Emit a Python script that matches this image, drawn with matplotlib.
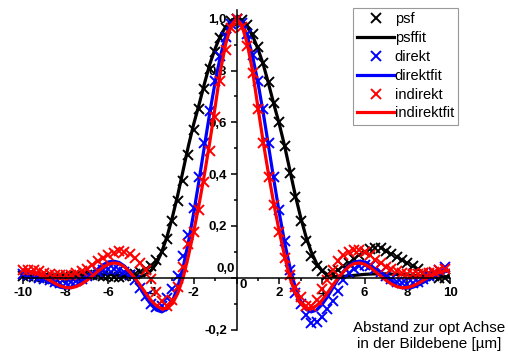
import numpy as np
import matplotlib
matplotlib.use("Agg")
import matplotlib.pyplot as plt
from matplotlib.ticker import MultipleLocator, FuncFormatter

plt.rcParams['font.family'] = ['Liberation Sans', 'DejaVu Sans']

# sample positions (µm)
x_data = np.arange(-10, 10, 0.25)        # -10 ... 9.75
x_fit = np.arange(-10, 10.001, 0.25)     # -10 ... 10

# measured profiles
psf = [0.005, 0.005, 0.004, 0.003, 0.002, 0.0, 0.0, 0.0, 0.002, 0.004, 0.006,
       0.008, 0.01, 0.01, 0.01, 0.008, 0.006, 0.004, 0.004, 0.006, 0.01, 0.015,
       0.022, 0.032, 0.045, 0.068, 0.1, 0.15, 0.22, 0.295, 0.375, 0.475, 0.57,
       0.65, 0.73, 0.805, 0.87, 0.925, 0.965, 0.99,
       1.0,
       0.995, 0.975, 0.94, 0.89, 0.83, 0.755, 0.675, 0.6, 0.51, 0.405, 0.31,
       0.22, 0.14, 0.085, 0.045, 0.025, 0.012, 0.015,
       0.03, 0.045, 0.058, 0.072, 0.088, 0.1, 0.11, 0.115, 0.113, 0.105, 0.092,
       0.08, 0.068, 0.055, 0.044, 0.032, 0.02, 0.012, 0.005, 0.0, 0.0]

direkt = [0.015, 0.01, 0.005, 0.0, -0.005, -0.01, -0.015, -0.02, -0.02, -0.018,
          -0.012, -0.005, 0.005, 0.015, 0.022, 0.028, 0.032, 0.033, 0.03, 0.022,
          0.01, -0.01,
          -0.04, -0.072, -0.1, -0.115, -0.108, -0.08, -0.045, 0.005, 0.085, 0.165,
          0.27, 0.39, 0.52, 0.645, 0.76, 0.855, 0.93, 0.98,
          1.0,
          0.985, 0.94, 0.86, 0.76, 0.65, 0.52, 0.39, 0.26, 0.14, 0.03, -0.06,
          -0.1, -0.145, -0.175, -0.172, -0.15, -0.122,
          -0.088, -0.05, -0.01, 0.018, 0.035, 0.045, 0.048, 0.044, 0.035, 0.022,
          0.008, -0.005, -0.015, -0.022, -0.025, -0.022, -0.015, -0.005, 0.005,
          0.018, 0.03, 0.042]

indirekt = [0.03, 0.03, 0.028, 0.025, 0.02, 0.015, 0.012, 0.01, 0.01, 0.012,
            0.018, 0.025, 0.035, 0.05, 0.065, 0.078, 0.088, 0.097, 0.103, 0.1,
            0.09, 0.075,
            0.055, 0.03, -0.005, -0.055, -0.09, -0.11, -0.085, -0.035, 0.04, 0.13,
            0.175, 0.26, 0.37, 0.49, 0.62, 0.76, 0.88, 0.965,
            1.0,
            0.97, 0.895, 0.79, 0.65, 0.52, 0.39, 0.28, 0.175, 0.075, 0.01, -0.035,
            -0.075, -0.11, -0.108, -0.085, -0.045,
            -0.01, 0.03, 0.065, 0.088, 0.1, 0.107, 0.107, 0.1, 0.088, 0.07, 0.055,
            0.042, 0.033, 0.025, 0.018, 0.015, 0.015, 0.015, 0.017, 0.02, 0.023,
            0.03, 0.035]

# fitted curves
psf_fit = [0.004, 0.004, 0.005, 0.005, 0.006, 0.007, 0.008, 0.009, 0.011, 0.012,
           0.013, 0.014, 0.015, 0.015, 0.015, 0.014, 0.013, 0.011, 0.009, 0.007,
           0.005, 0.004, 0.005, 0.012, 0.028, 0.055, 0.1, 0.16, 0.235, 0.32,
           0.415, 0.51, 0.595, 0.67, 0.75, 0.825, 0.885, 0.935, 0.97, 0.99,
           1.0,
           0.99, 0.97, 0.935, 0.885, 0.825, 0.75, 0.67, 0.595, 0.51, 0.415, 0.32,
           0.235, 0.16, 0.1, 0.055, 0.028, 0.012, 0.005, 0.004, 0.005, 0.007,
           0.009, 0.011, 0.013, 0.014, 0.015, 0.015, 0.015, 0.014, 0.013, 0.012,
           0.011, 0.009, 0.008, 0.007, 0.006, 0.005, 0.005, 0.004, 0.004]

direkt_fit = [0.027, 0.023, 0.014, 0.004, -0.007, -0.018, -0.029, -0.037, -0.040,
              -0.038, -0.031, -0.017, -0.002, 0.015, 0.033, 0.050, 0.061, 0.064,
              0.059, 0.045, 0.023, -0.007, -0.041, -0.075, -0.104, -0.125, -0.132,
              -0.121, -0.090, -0.036, 0.041, 0.138, 0.252, 0.378, 0.509, 0.638,
              0.756, 0.857, 0.935, 0.983,
              1.0,
              0.983, 0.935, 0.857, 0.756, 0.638, 0.509, 0.378, 0.252, 0.138, 0.041,
              -0.036, -0.090, -0.121, -0.132, -0.125, -0.104, -0.075, -0.041,
              -0.007, 0.023, 0.045, 0.059, 0.064, 0.061, 0.050, 0.033, 0.015,
              -0.002, -0.017, -0.031, -0.038, -0.040, -0.037, -0.029, -0.018,
              -0.007, 0.004, 0.014, 0.023, 0.027]

indirekt_fit = [0.03, 0.026, 0.02, 0.012, 0.002, -0.01, -0.022, -0.032, -0.038,
                -0.039, -0.034, -0.024, -0.01, 0.007, 0.024, 0.04, 0.052, 0.057,
                0.054, 0.042, 0.022, -0.002, -0.03, -0.06, -0.088, -0.108, -0.12,
                -0.118, -0.1, -0.06, 0.0, 0.085, 0.18, 0.285, 0.4, 0.525, 0.66,
                0.8, 0.905, 0.975,
                1.0,
                0.975, 0.905, 0.8, 0.66, 0.525, 0.4, 0.285, 0.18, 0.085, 0.0,
                -0.06, -0.1, -0.118, -0.12, -0.108, -0.088, -0.06, -0.03, -0.002,
                0.022, 0.042, 0.054, 0.057, 0.052, 0.04, 0.024, 0.007, -0.01,
                -0.024, -0.034, -0.039, -0.038, -0.032, -0.022, -0.01, 0.002,
                0.012, 0.02, 0.026, 0.03]

fig = plt.figure(figsize=(5.08, 3.55), dpi=100)
ax = fig.add_axes([23 / 508, 1 - 329.5 / 355, 427 / 508, 319.5 / 355])
ax.set_xlim(-10, 10)
ax.set_ylim(-0.2, 1.034)

ms, mew, lw = 6.5, 1.4, 2.3
ax.plot(x_data, psf, 'x', color='black', ms=ms, mew=mew, label='psf', clip_on=False)
ax.plot(x_fit, psf_fit, '-', color='black', lw=lw, label='psffit')
ax.plot(x_data, direkt, 'x', color='blue', ms=ms, mew=mew, label='direkt', clip_on=False)
ax.plot(x_fit, direkt_fit, '-', color='blue', lw=lw, label='direktfit')
ax.plot(x_data, indirekt, 'x', color='red', ms=ms, mew=mew, label='indirekt', clip_on=False)
ax.plot(x_fit, indirekt_fit, '-', color='red', lw=lw, label='indirektfit')

# axes crossing at the origin
for s in ['top', 'right']:
    ax.spines[s].set_visible(False)
ax.spines['left'].set_position(('data', 0))
ax.spines['bottom'].set_position(('data', 0))
for s in ['left', 'bottom']:
    ax.spines[s].set_linewidth(1.1)

ax.xaxis.set_major_locator(MultipleLocator(2))
ax.xaxis.set_minor_locator(MultipleLocator(1))
ax.yaxis.set_major_locator(MultipleLocator(0.2))
ax.yaxis.set_minor_locator(MultipleLocator(0.1))

def xfmt(v, pos):
    if abs(v) < 1e-9:
        return ''
    return '%d' % round(v)

def yfmt(v, pos):
    if abs(v) < 1e-9:
        return ''
    return ('%.1f' % v).replace('.', ',')

tick_fs = 9.5
ax.xaxis.set_major_formatter(FuncFormatter(xfmt))
ax.yaxis.set_major_formatter(FuncFormatter(yfmt))
ax.tick_params(which='both', direction='out', width=1.1)
ax.tick_params(which='major', length=4.5, labelsize=tick_fs, pad=2.5)
ax.tick_params(which='minor', length=2.5)
for lab in ax.get_xticklabels() + ax.get_yticklabels():
    lab.set_fontweight('bold')

# the zero labels sit inside the corner
ax.annotate('0', xy=(0, 0), xytext=(5, -5.5), textcoords='offset points',
            ha='center', va='center', fontsize=tick_fs, fontweight='bold')
ax.annotate('0,0', xy=(0, 0), xytext=(-1.2, 6), textcoords='offset points',
            ha='right', va='center', fontsize=tick_fs, fontweight='bold')

leg = ax.legend(loc='upper left', bbox_to_anchor=(353 / 508, 1 - 8 / 355),
                bbox_transform=fig.transFigure, fontsize=10.5, frameon=True,
                fancybox=False, edgecolor='gray', handlelength=2.5,
                handletextpad=0.05, labelspacing=0.33, borderpad=0.3,
                borderaxespad=0)
leg.get_frame().set_linewidth(0.8)

fig.text(505 / 508, 1 - 336 / 355, 'Abstand zur opt Achse\nin der Bildebene [µm]',
         ha='right', va='center', fontsize=11, multialignment='center',
         linespacing=1.15)

fig.savefig('out.png', dpi=100)
